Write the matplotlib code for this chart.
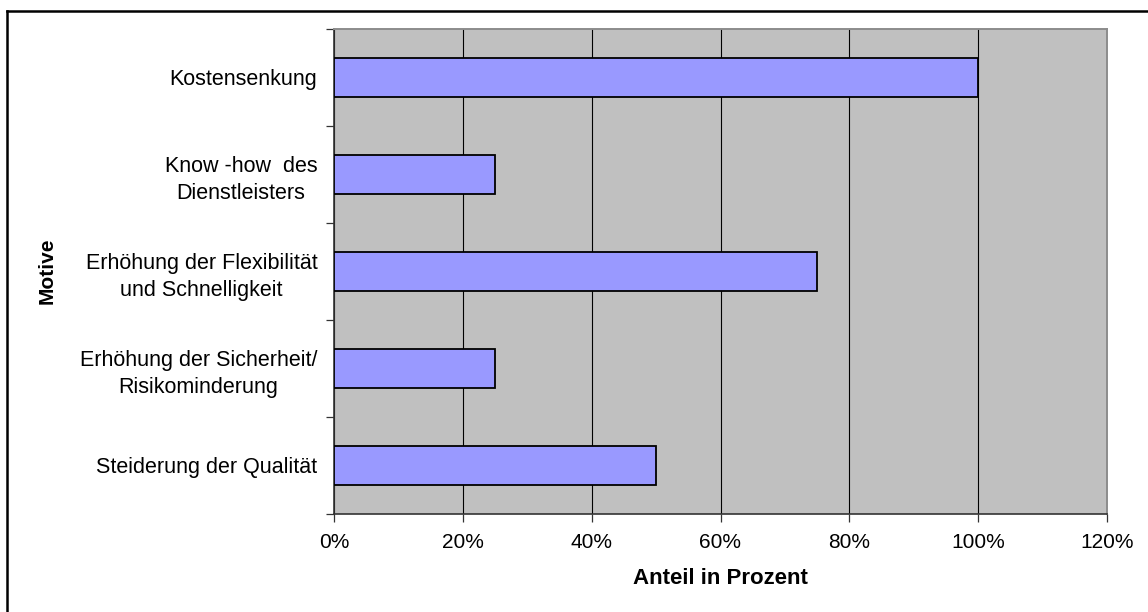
import matplotlib
matplotlib.use("Agg")
import matplotlib.pyplot as plt
from matplotlib.lines import Line2D
from matplotlib.ticker import FuncFormatter, FixedLocator

plt.rcParams['font.family'] = ['Liberation Sans', 'DejaVu Sans']

categories = [
    "Kostensenkung",
    "Know -how  des\nDienstleisters",
    "Erhöhung der Flexibilität\nund Schnelligkeit",
    "Erhöhung der Sicherheit/\nRisikominderung",
    "Steiderung der Qualität",
]
shares = [100, 25, 75, 25, 50]
x_ticks = [0, 20, 40, 60, 80, 100, 120]

W, H = 1148, 612
fig = plt.figure(figsize=(W / 100, H / 100), dpi=100)
fig.patch.set_facecolor("white")

# chart frame (left and top edges; the rest runs off the canvas)
fig.add_artist(Line2D([7 / W, 7 / W], [0, 1 - 11 / H], transform=fig.transFigure,
                      color="black", linewidth=1.8, solid_capstyle="projecting"))
fig.add_artist(Line2D([7 / W, 1], [1 - 11 / H, 1 - 11 / H], transform=fig.transFigure,
                      color="black", linewidth=1.8, solid_capstyle="projecting"))

ax = fig.add_axes([334 / W, 1 - 514 / H, (1107 - 334) / W, (514 - 29) / H])
ax.set_facecolor("#C0C0C0")

ypos = list(range(len(categories)))
ax.barh(ypos, shares, height=0.40, color="#9999FF", edgecolor="black",
        linewidth=1.3, zorder=3)

ax.set_xlim(0, 120)
ax.set_ylim(len(categories) - 0.5, -0.5)

ax.set_xticks(x_ticks)
ax.xaxis.set_major_formatter(FuncFormatter(lambda v, p: f"{int(v)}%"))
ax.xaxis.grid(True, color="black", linewidth=0.8, zorder=1)
ax.set_axisbelow(True)

ax.set_yticks(ypos)
ax.set_yticklabels(categories)
for lbl in ax.get_yticklabels():
    lbl.set_multialignment("center")
    lbl.set_linespacing(1.35)
ax.yaxis.set_minor_locator(FixedLocator([i - 0.5 for i in range(len(categories) + 1)]))
ax.tick_params(axis="y", which="major", length=0, pad=12, labelsize=15.5)
ax.tick_params(axis="y", which="minor", length=6, width=0.9, color="#333333")
ax.tick_params(axis="x", which="major", length=6, width=0.9, color="#333333",
               pad=8, labelsize=15)

for side in ("top", "right"):
    ax.spines[side].set_color("#8C8C8C")
    ax.spines[side].set_linewidth(1.4)
for side in ("bottom", "left"):
    ax.spines[side].set_color("#333333")
    ax.spines[side].set_linewidth(1.2)

fig.text(720 / W, 1 - 578 / H, "Anteil in Prozent", fontsize=16, fontweight="bold",
         ha="center", va="center")
fig.text(47 / W, 1 - 271 / H, "Motive", rotation=90, fontsize=15,
         fontweight="bold", ha="center", va="center")

fig.savefig("out.png", dpi=100, facecolor="white")
